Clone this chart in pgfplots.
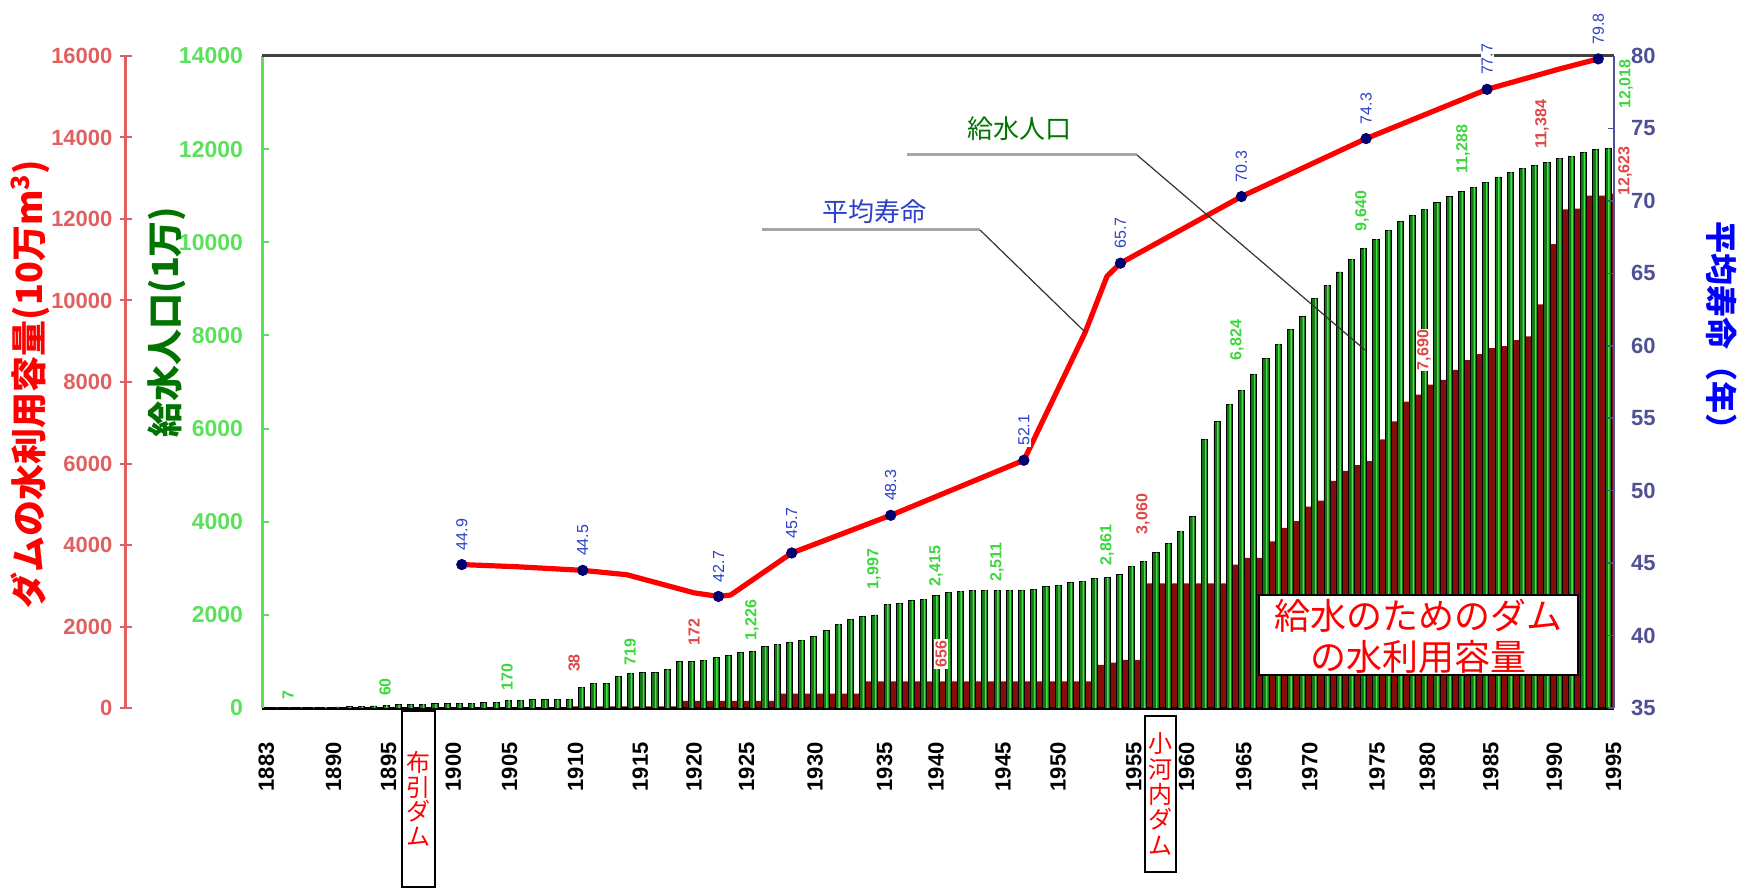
\documentclass[border=0pt]{standalone}
\usepackage{pgfplots}
\pgfplotsset{compat=1.18}
\usepackage{pgfplotstable}
\usepackage{fontspec}
\setmainfont{Liberation Sans}
\newfontfamily\jp{Noto Sans CJK JP}

\definecolor{popgreen}{RGB}{22,115,22}
\definecolor{poplight}{RGB}{70,225,70}
\definecolor{damred}{RGB}{135,12,12}
\definecolor{axgreen}{RGB}{90,225,90}
\definecolor{axred}{RGB}{225,95,95}
\definecolor{axblue}{RGB}{80,80,150}
\definecolor{lblgreen}{RGB}{60,215,60}
\definecolor{lblred}{RGB}{225,70,70}
\definecolor{lblblue}{RGB}{45,65,200}
\definecolor{navy}{RGB}{0,0,110}
\definecolor{ttlgreen}{RGB}{0,115,0}

% water supply population (1万) and dam capacity (10万m3), one bar pair per year
\pgfplotstableread{
year pop dam
1884 7 0
1885 9 0
1886 11 0
1887 14 0
1888 18 0
1889 22 0
1890 27 0
1891 35 0
1892 45 0
1893 60 0
1894 70 0
1895 80 0
1896 85 0
1897 90 0
1898 95 0
1899 100 0
1900 105 8
1901 110 8
1902 120 8
1903 170 8
1904 170 8
1905 175 8
1906 180 8
1907 185 8
1908 190 38
1909 450 38
1910 535 38
1911 530 38
1912 680 38
1913 750 38
1914 760 38
1915 760 38
1916 830 38
1917 995 172
1918 995 172
1919 1030 172
1920 1080 172
1921 1123 172
1922 1188 172
1923 1226 172
1924 1316 172
1925 1374 350
1926 1410 350
1927 1460 350
1928 1531 350
1929 1660 350
1930 1803 350
1931 1904 350
1932 1960 656
1933 1997 656
1934 2233 656
1935 2248 656
1936 2304 656
1937 2340 656
1938 2415 656
1939 2484 656
1940 2511 656
1941 2533 656
1942 2533 656
1943 2533 656
1944 2533 656
1945 2533 656
1946 2548 656
1947 2605 656
1948 2641 656
1949 2691 656
1950 2727 656
1951 2784 1058
1952 2800 1115
1953 2861 1180
1954 3049 1180
1955 3156 3060
1956 3335 3060
1957 3536 3060
1958 3800 3060
1959 4108 3060
1960 5769 3060
1961 6147 3060
1962 6527 3518
1963 6824 3683
1964 7171 3683
1965 7508 4092
1966 7815 4420
1967 8131 4584
1968 8401 4942
1969 8794 5087
1970 9082 5574
1971 9363 5818
1972 9640 5963
1973 9872 6059
1974 10067 6595
1975 10254 7033
1976 10441 7518
1977 10576 7690
1978 10711 7936
1979 10847 8054
1980 10975 8295
1981 11085 8539
1982 11186 8686
1983 11288 8831
1984 11399 8881
1985 11502 9026
1986 11594 9122
1987 11654 9902
1988 11721 11384
1989 11806 12234
1990 11849 12253
1991 11933 12575
1992 11993 12575
1993 12018 12623
}\waterdata

% life expectancy, line as drawn
\pgfplotstableread{
year life
1899.2 44.9
1903.7 44.75
1909.1 44.5
1912.7 44.2
1916.0 43.45
1918.2 42.95
1920.2 42.7
1921.2 42.8
1926.2 45.7
1934.3 48.3
1945.2 52.1
1950.2 60.9
1952.0 64.8
1953.1 65.7
1963.0 70.3
1973.2 74.3
1983.1 77.7
1989.0 79.1
1992.2 79.8
}\lifeline

\pgfplotstableread{
year life lab
1899.2 44.9 44.9
1909.1 44.5 44.5
1920.2 42.7 42.7
1926.2 45.7 45.7
1934.3 48.3 48.3
1945.2 52.1 52.1
1953.1 65.7 65.7
1963.0 70.3 70.3
1973.2 74.3 74.3
1983.1 77.7 77.7
1992.2 79.8 79.8
}\lifepts

\pgfplotsset{
  base/.style={at={(131pt,91pt)}, anchor=south west, scale only axis,
    width=676pt, height=326pt, xmin=1882.85, xmax=1993.49,
    /pgf/number format/1000 sep={}, /pgf/number format/assume math mode=true},
}
\tikzset{
  gl/.style={rotate=90, text=lblgreen, font=\bfseries\fontsize{8}{8}\selectfont, inner sep=0.6pt},
  rl/.style={rotate=90, text=lblred, font=\bfseries\fontsize{8}{8}\selectfont, inner sep=0.6pt},
}

\begin{document}
\begin{tikzpicture}
\useasboundingbox (0,0) rectangle (880.5pt,445pt);

% dam capacity bars (red scale)
\begin{axis}[base, ymin=0, ymax=16000, hide axis]
\addplot[ybar, bar width=0.5, bar shift=0.5, fill=damred, draw=none] table[x=year,y=dam]{\waterdata};
\end{axis}

% population bars (green scale)
\begin{axis}[base, ymin=0, ymax=14000, scaled y ticks=false,
  axis x line*=bottom, axis y line*=left, axis line style={-},
  x axis line style={black, line width=1.5pt},
  y axis line style={axgreen, line width=1.5pt},
  ytick={0,2000,...,14000},
  ytick style={axgreen, line width=1pt}, xtick style={draw=none},
  tick align=inside, major tick length=3.5pt,
  yticklabel style={font=\bfseries\fontsize{11.5}{12}\selectfont, text=axgreen},
  yticklabel shift=6pt,
  xtick={1883.2,1888.7,1893.2,1898.5,1903.1,1908.5,1913.8,1918.2,1922.5,1928.1,1933.8,1938.0,1943.5,1948.0,1954.2,1958.5,1963.2,1968.6,1974.1,1978.2,1983.4,1988.6,1993.45},
  xticklabels={1883,1890,1895,1900,1905,1910,1915,1920,1925,1930,1935,1940,1945,1950,1955,1960,1965,1970,1975,1980,1985,1990,1995},
  xticklabel style={rotate=90, anchor=east, inner sep=0pt, font=\bfseries\fontsize{11}{11}\selectfont},
  xticklabel shift=17pt]
\addplot[ybar, bar width=0.5, bar shift=0, fill=popgreen, draw=black, line width=0.4pt] table[x=year,y=pop]{\waterdata};
\addplot[ybar, bar width=0.12, bar shift=0.07, fill=poplight, draw=none] table[x=year,y=pop]{\waterdata};
\end{axis}

% red axis for dam capacity, set apart on the left
\begin{axis}[at={(63pt,91pt)}, anchor=south west, scale only axis, width=1pt, height=326pt,
  xmin=0, xmax=1, ymin=0, ymax=16000, hide x axis, scaled y ticks=false,
  axis y line*=left, axis line style={-},
  y axis line style={axred, line width=1.5pt},
  ytick={0,2000,...,16000}, ytick style={axred, line width=1pt},
  tick align=center, major tick length=6.5pt,
  yticklabel style={font=\bfseries\fontsize{11}{12}\selectfont, text=axred},
  /pgf/number format/1000 sep={}, /pgf/number format/assume math mode=true]
\addplot[draw=none] coordinates {(0,0)};
\end{axis}

% life expectancy (right axis)
\begin{axis}[base, ymin=35, ymax=80, clip=false,
  axis y line*=right, axis x line*=top, axis line style={-},
  x axis line style={black!75, line width=1.5pt},
  y axis line style={axblue, line width=1.2pt},
  xtick=\empty, ytick={35,40,...,80},
  ytick style={axblue, line width=0.8pt}, tick align=inside, major tick length=3pt,
  yticklabel style={font=\bfseries\fontsize{11}{12}\selectfont, text=axblue},
  yticklabel shift=5pt]
\addplot[red, line width=2.6pt, line join=round] table[x=year,y=life]{\lifeline};
\addplot[only marks, mark=*, mark size=2.6pt, navy,
  nodes near coords, point meta=explicit symbolic,
  every node near coord/.append style={rotate=90, anchor=west, xshift=6.5pt,
    fill=white, inner sep=0.5pt, text=lblblue, font=\fontsize{8}{8}\selectfont}]
  table[x=year,y=life,meta=lab]{\lifepts};
\end{axis}

% annotations, in pixel units of the reference
\begin{scope}[shift={(0pt,445pt)}, x=0.5pt, y=-0.5pt]
  % titles
  \node[rotate=90, text=red, font=\jp\bfseries\fontsize{18}{18}\selectfont] at (30,384) {ダムの水利用容量(10万m\textsuperscript{3})};
  \node[rotate=90, text=ttlgreen, font=\jp\bfseries\fontsize{18}{18}\selectfont] at (167,322) {給水人口(1万)};
  \node[rotate=-90, text=blue, font=\jp\bfseries\fontsize{16}{16}\selectfont] at (1722,334) {平均寿命（年）};

  % leader lines and their names
  \draw[gray!70, line width=1.5pt] (907,155) -- (1137,155);
  \draw[black!80, line width=0.6pt] (1137,155) -- (1365,350);
  \draw[gray!70, line width=1.5pt] (762,230) -- (980,230);
  \draw[black!80, line width=0.6pt] (980,230) -- (1085,332);
  \node[text=ttlgreen, font=\jp\fontsize{13}{13}\selectfont] at (1019,129) {給水人口};
  \node[text=lblblue, font=\jp\fontsize{13}{13}\selectfont] at (874,212) {平均寿命};

  % population values
  \node[gl] at (288,695) {7};
  \node[gl] at (385,687) {60};
  \node[gl] at (507,677) {170};
  \node[gl] at (630,652) {719};
  \node[gl] at (752,620) {1,226};
  \node[gl] at (874,569) {1,997};
  \node[gl] at (936,566) {2,415};
  \node[gl] at (997,562) {2,511};
  \node[gl] at (1107,545) {2,861};
  \node[gl] at (1237,340) {6,824};
  \node[gl] at (1362,211) {9,640};
  \node[gl] at (1463,149) {11,288};
  \node[gl] at (1626,84) {12,018};
  % dam values
  \node[rl] at (574,663) {38};
  \node[rl] at (694,632) {172};
  \node[rl, fill=white] at (941,654) {656};
  \node[rl] at (1143,514) {3,060};
  \node[rl, fill=white] at (1424,350) {7,690};
  \node[rl] at (1542,124) {11,384};
  \node[rl] at (1625,171) {12,623};

  % dam boxes
  \draw[black, line width=1pt] (402,711) rectangle (435,887);
  \node[text=red, align=center, inner sep=0pt, font=\jp\fontsize{12}{12.25}\selectfont] at (418.5,799) {布\\引\\ダ\\ム};
  \draw[black, line width=1pt] (1145,716) rectangle (1176,872);
  \node[text=red, align=center, inner sep=0pt, font=\jp\fontsize{12}{12.7}\selectfont] at (1160.5,794) {小\\河\\内\\ダ\\ム};

  \draw[black, fill=white, line width=1.2pt] (1259,595) rectangle (1578,675);
  \node[text=red, align=center, font=\jp\fontsize{18}{20.5}\selectfont] at (1418,636) {給水のためのダム\\の水利用容量};
\end{scope}
\end{tikzpicture}
\end{document}
